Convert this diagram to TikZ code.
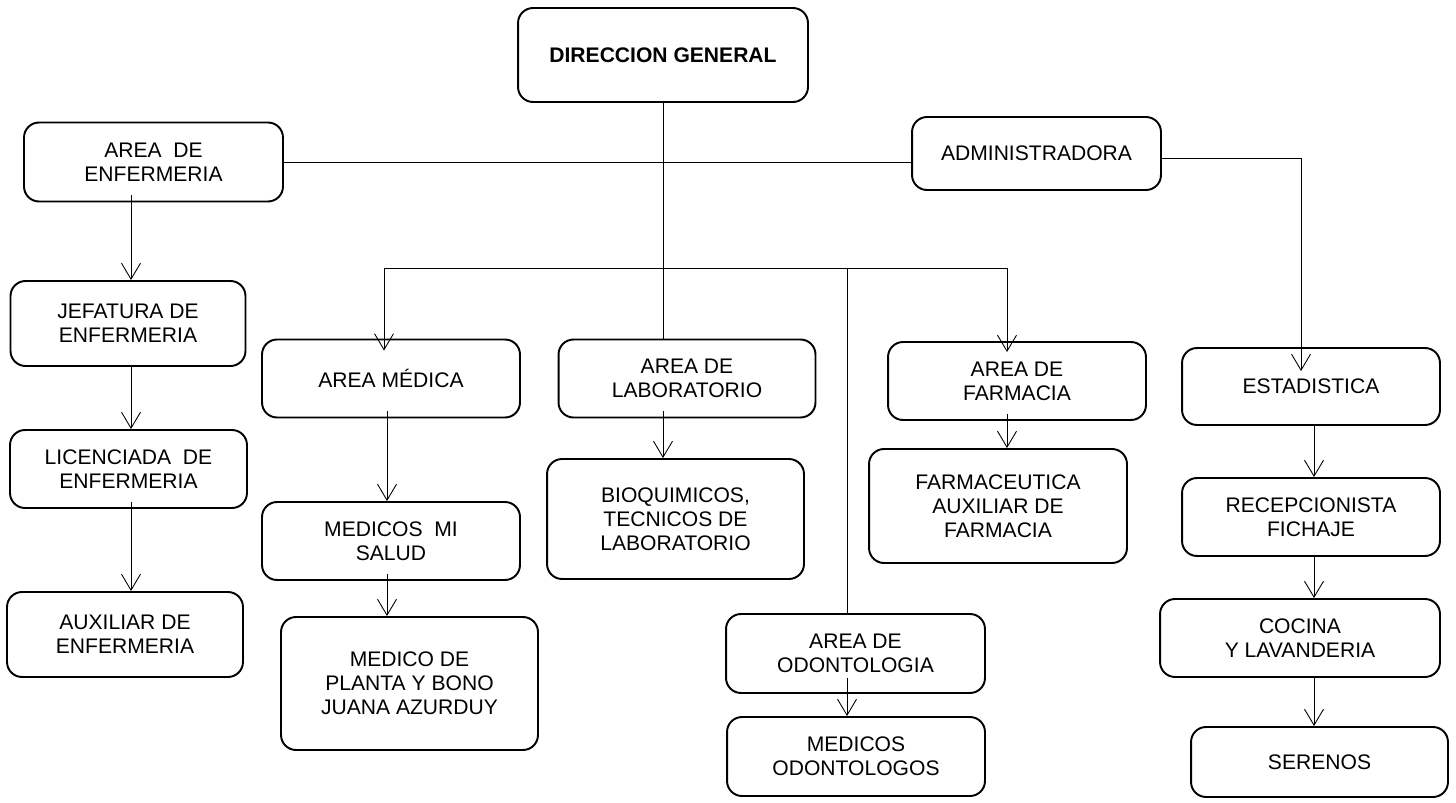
\documentclass[tikz,border=0pt]{standalone}
\usepackage{fontspec}
\setmainfont{Liberation Sans}
\usetikzlibrary{arrows.meta,positioning,calc}

\begin{document}
\begin{tikzpicture}[
    x=0.02cm, y=-0.02cm,
    >={Straight Barb[length=3.2mm,width=3.8mm]},
    font=\fontsize{12pt}{13.6pt}\selectfont,
    box/.style={
        draw=black,
        rounded corners=3mm,
        line width=1.1pt,
        minimum width=5.16cm,
        minimum height=1.56cm,
        align=center,
        inner sep=1pt
    },
    link/.style={line width=0.5pt},
    arr/.style={->, line width=0.5pt},
    down/.style={arr, shorten <=-0.14cm}
]

\useasboundingbox (0,0) rectangle (1456,803);

% top level
\node[box, minimum width=5.8cm, minimum height=1.88cm] (dg) at (663,55)
{\textbf{DIRECCION GENERAL}};
\node[box, minimum width=5.18cm, minimum height=1.58cm] (enf) at (153.5,162)
{AREA\ \ DE\\ENFERMERIA};
\node[box, minimum width=4.98cm, minimum height=1.46cm] (adm) at (1036.5,153.5)
{ADMINISTRADORA};

% left column
\node[box, minimum width=4.7cm, minimum height=1.7cm] (jef) at (128,323.5)
{JEFATURA DE\\ENFERMERIA};
\node[box, minimum width=4.74cm] (lic) at (128.5,469)
{LICENCIADA\ \ DE\\ENFERMERIA};
\node[box, minimum width=4.72cm, minimum height=1.7cm] (aux) at (125,634.5)
{AUXILIAR DE\\ENFERMERIA};

% areas
\node[box] (med) at (391,378.5) {AREA MÉDICA};
\node[box, minimum width=5.14cm] (lab) at (687,378.5) {AREA DE\\LABORATORIO};
\node[box] (far) at (1017,381) {AREA DE\\FARMACIA};

\node[box] (mis) at (391,541) {MEDICOS\ \ MI\\SALUD};
\node[box, minimum width=5.14cm, minimum height=2.66cm] (pla) at (409.5,683.5)
{MEDICO DE\\PLANTA Y BONO\\JUANA AZURDUY};
\node[box, minimum width=5.14cm, minimum height=2.4cm] (bio) at (675.5,519)
{BIOQUIMICOS,\\TECNICOS DE\\LABORATORIO};
\node[box, minimum height=2.28cm] (fce) at (998,506)
{FARMACEUTICA\\AUXILIAR DE\\FARMACIA};
\node[box, minimum width=5.18cm, minimum height=1.58cm] (odo) at (855.5,653.5)
{AREA DE\\ODONTOLOGIA};
\node[box, minimum height=1.58cm] (mod) at (856,756.5)
{MEDICOS\\ODONTOLOGOS};

% right column
\node[box, minimum height=1.54cm] (est) at (1311,386.5) {ESTADISTICA};
\node[box] (rec) at (1311,517) {RECEPCIONISTA\\FICHAJE};
\node[box, minimum width=5.6cm] (coc) at (1300,638) {COCINA\\Y LAVANDERIA};
\node[box, minimum width=5.14cm, minimum height=1.4cm] (ser) at (1319.5,762) {SERENOS};

% connectors from the top
\coordinate (bus) at (663,268);
\draw[link] (dg.south) -- (dg.south |- lab.north);
\draw[link] (enf.east) -- (enf.east -| adm.west);
\draw[arr, shorten >=-0.48cm] ([yshift=-0.1cm]adm.east) -| ([xshift=-0.2cm]est.north);

\coordinate (medx) at ([xshift=-0.14cm]med.north);
\coordinate (farx) at ([xshift=-0.2cm]far.north);
\coordinate (odox) at ([xshift=-0.17cm]odo.north);
\draw[link] (medx |- bus) -- (farx |- bus);
\draw[arr, shorten >=-0.24cm] (medx |- bus) -- (medx);
\draw[arr, shorten >=-0.22cm] (farx |- bus) -- (farx);
\draw[link] (odox |- bus) -- (odox);

% columns
\coordinate (enfx) at (131,0);
\draw[down] (enfx |- enf.south) -- (enfx |- jef.north);
\draw[arr] (enfx |- jef.south) -- (enfx |- lic.north);
\draw[down] (enfx |- lic.south) -- (enfx |- aux.north);

\coordinate (misx) at (387,0);
\draw[down] (misx |- med.south) -- (misx |- mis.north);
\draw[down] (misx |- mis.south) -- (misx |- pla.north);

\draw[down] (dg.south |- lab.south) -- (dg.south |- bio.north);
\draw[down] (farx |- far.south) -- (farx |- fce.north);
\draw[arr, shorten <=-0.32cm] (odox |- odo.south) -- (odox |- mod.north);

\coordinate (estx) at (1314,0);
\draw[arr] (estx |- est.south) -- (estx |- rec.north);
\draw[arr] (estx |- rec.south) -- (estx |- coc.north);
\draw[arr] (estx |- coc.south) -- (estx |- ser.north);

\end{tikzpicture}
\end{document}
